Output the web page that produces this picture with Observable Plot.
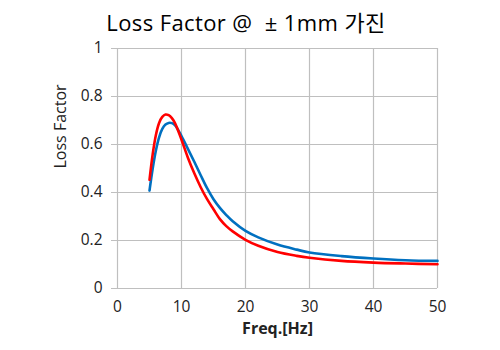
<!DOCTYPE html>
<html>
<head>
<meta charset="utf-8">
<script src="https://cdn.jsdelivr.net/npm/d3@7"></script>
<script src="https://cdn.jsdelivr.net/npm/@observablehq/plot@0.6"></script>
<style>
  html, body { margin: 0; padding: 0; background: #fff; }
  body { width: 500px; height: 350px; overflow: hidden; font-family: "Open Sans", "Noto Sans CJK KR", sans-serif; }
  #title { height: 24px; line-height: 24px; padding-top: 10px; font-size: 22px; font-weight: 400; letter-spacing: 0.4px; text-align: center; color: #000; width: 492px; white-space: pre; }
</style>
</head>
<body>
<div id="title"></div>
<div id="chart"></div>
<script>
const titleText = "Loss Factor @  ± 1mm 가진";
const xLabel = "Freq.[Hz]";
const yLabel = "Loss Factor";
const xTicks = [0, 10, 20, 30, 40, 50];
const yTicks = [0, 0.2, 0.4, 0.6, 0.8, 1];

const freq = [5, 5.5, 6, 6.5, 7, 7.5, 8, 8.5, 9, 10, 11, 12, 13, 14, 15, 16, 17, 18, 20, 22, 25, 28, 30, 35, 40, 45, 50];
const redValues = [0.453, 0.56, 0.64, 0.69, 0.715, 0.725, 0.722, 0.71, 0.688, 0.62, 0.545, 0.48, 0.422, 0.372, 0.33, 0.289, 0.26, 0.238, 0.203, 0.178, 0.152, 0.136, 0.128, 0.115, 0.108, 0.104, 0.101];
const blueValues = [0.408, 0.5, 0.575, 0.63, 0.665, 0.683, 0.69, 0.689, 0.68, 0.635, 0.582, 0.528, 0.472, 0.418, 0.372, 0.336, 0.306, 0.28, 0.24, 0.213, 0.183, 0.162, 0.15, 0.135, 0.125, 0.118, 0.115];

document.getElementById("title").textContent = titleText;

const red = freq.map((f, i) => ({f, v: redValues[i]}));
const blue = freq.map((f, i) => ({f, v: blueValues[i]}));

const chart = Plot.plot({
  width: 500,
  height: 316,
  marginTop: 14,
  marginBottom: 62,
  marginLeft: 117,
  marginRight: 63,
  style: { fontFamily: '"Open Sans", "Noto Sans CJK KR", sans-serif', fontSize: "15px", color: "#000", background: "#fff" },
  x: { domain: [0, 50] },
  y: { domain: [0, 1] },
  marks: [
    Plot.ruleX(xTicks, { stroke: "#bfbfbf", strokeWidth: 1.2 }),
    Plot.ruleY(yTicks, { stroke: "#bfbfbf", strokeWidth: 1.2, x1: 0, x2: 50 }),
    Plot.axisY({ ticks: yTicks, tickSize: 6, tickPadding: 9, stroke: "#bfbfbf", strokeOpacity: 1, tickFormat: d => String(d), label: null, fontSize: 15.5, fill: "#222" }),
    Plot.axisX({ ticks: xTicks, tickSize: 0, tickPadding: 12, tickFormat: d => String(d), label: null, fontSize: 15.5, fill: "#222" }),
    Plot.line(blue, { x: "f", y: "v", stroke: "#0070c0", strokeWidth: 2.6, curve: "catmull-rom" }),
    Plot.line(red, { x: "f", y: "v", stroke: "#ff0000", strokeWidth: 2.6, curve: "catmull-rom" }),
    Plot.text([xLabel], { frameAnchor: "bottom", dy: 40, text: d => d, fontSize: 16, fontWeight: "bold", lineAnchor: "middle", fill: "#222" }),
    Plot.text([yLabel], { frameAnchor: "left", dx: -57, rotate: -90, text: d => d, fontSize: 16, lineAnchor: "middle", fill: "#222" })
  ]
});
document.getElementById("chart").appendChild(chart);
</script>
</body>
</html>
